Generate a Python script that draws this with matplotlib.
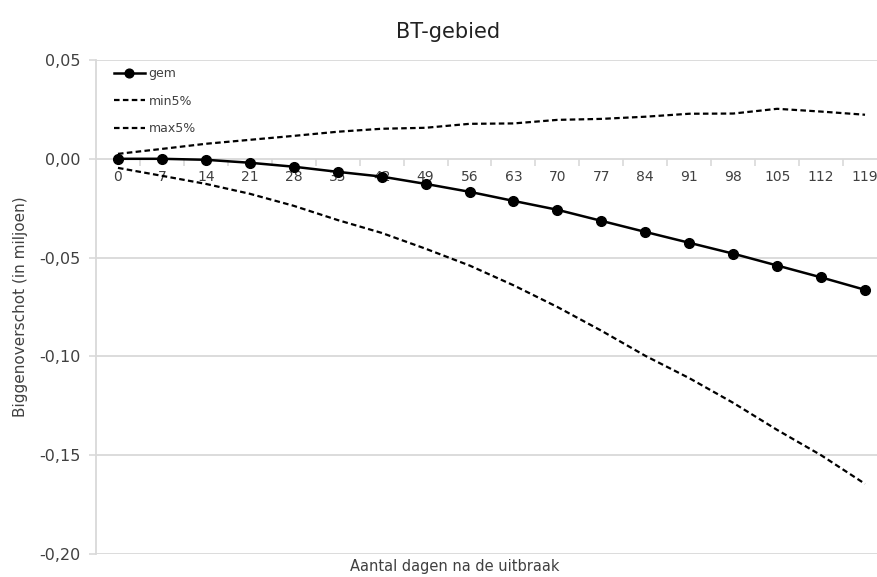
import matplotlib
matplotlib.use("Agg")
import matplotlib.pyplot as plt
import numpy as np
from matplotlib.ticker import FixedLocator, FuncFormatter

days = [0, 7, 14, 21, 28, 35, 42, 49, 56, 63, 70, 77, 84, 91, 98, 105, 112, 119]
gem = [0.0, 0.0, -0.0005, -0.002, -0.004, -0.0066, -0.009, -0.0127, -0.0167,
       -0.0213, -0.0258, -0.0314, -0.037, -0.0425, -0.048, -0.054, -0.060, -0.0663]
min5 = [-0.0046, -0.0086, -0.0127, -0.0177, -0.0238, -0.031, -0.0375, -0.0455, -0.054,
        -0.064, -0.075, -0.087, -0.0997, -0.111, -0.1235, -0.1372, -0.150, -0.1645]
max5 = [0.0025, 0.005, 0.0076, 0.0096, 0.0116, 0.0137, 0.0152, 0.0157, 0.0177,
        0.0179, 0.0197, 0.0202, 0.0213, 0.0228, 0.0229, 0.0253, 0.0239, 0.0223]
yticks = [0.05, 0.0, -0.05, -0.10, -0.15, -0.20]

plt.rcParams['font.family'] = ['DejaVu Sans']
fig = plt.figure(figsize=(8.78, 5.77), dpi=100)
ax = fig.add_axes([96/878, 1-554/577, (887-96)/878, (554-60)/577])

grid_c = '#d9d9d9'
text_c = '#404040'
for v in yticks:
    if v != 0:
        ax.axhline(v, color=grid_c, lw=1.3, zorder=0)

dash = (0, (2.5, 1.5))
ax.plot(days, gem, color='black', lw=1.8, marker='o', ms=7, label='gem', zorder=3)
ax.plot(days, min5, color='black', lw=1.6, ls=dash, label='min5%', zorder=2)
ax.plot(days, max5, color='black', lw=1.6, ls=dash, label='max5%', zorder=2)

ax.set_xlim(-3.5, 122.5)
ax.set_ylim(-0.20, 0.05)

for s in ['top', 'right']:
    ax.spines[s].set_visible(False)
ax.spines['bottom'].set_position(('data', 0))
ax.spines['bottom'].set_color(grid_c)
ax.spines['bottom'].set_linewidth(1.3)
ax.spines['left'].set_color(grid_c)
ax.spines['left'].set_linewidth(1.3)

ax.xaxis.set_major_locator(FixedLocator(days))
ax.xaxis.set_minor_locator(FixedLocator([d + 3.5 for d in days]))
ax.tick_params(axis='x', which='major', length=0, pad=8, labelsize=10, labelcolor=text_c)
ax.tick_params(axis='x', which='minor', length=5, width=1.2, color=grid_c, direction='out')

ax.set_yticks(yticks)
ax.yaxis.set_major_formatter(FuncFormatter(lambda v, p: f"{v:.2f}".replace('.', ',')))
ax.tick_params(axis='y', length=5, width=1.2, color=grid_c, pad=6, labelsize=11.5, labelcolor=text_c)

fig.text(448/878, 1-32/577, 'BT-gebied', ha='center', va='center', fontsize=15, color='#222222')
ax.set_ylabel('Biggenoverschot (in miljoen)', fontsize=11, color=text_c, labelpad=8)
fig.text(455/878, 1-566/577, 'Aantal dagen na de uitbraak', ha='center', va='center',
         fontsize=10.5, color=text_c)

leg = ax.legend(loc='upper left', bbox_to_anchor=(0.008, 1.008), frameon=False,
                fontsize=9, handlelength=2.5, handletextpad=0.3, labelspacing=1.15,
                markerscale=0.9, labelcolor=text_c)

fig.savefig('out.png', dpi=100)
